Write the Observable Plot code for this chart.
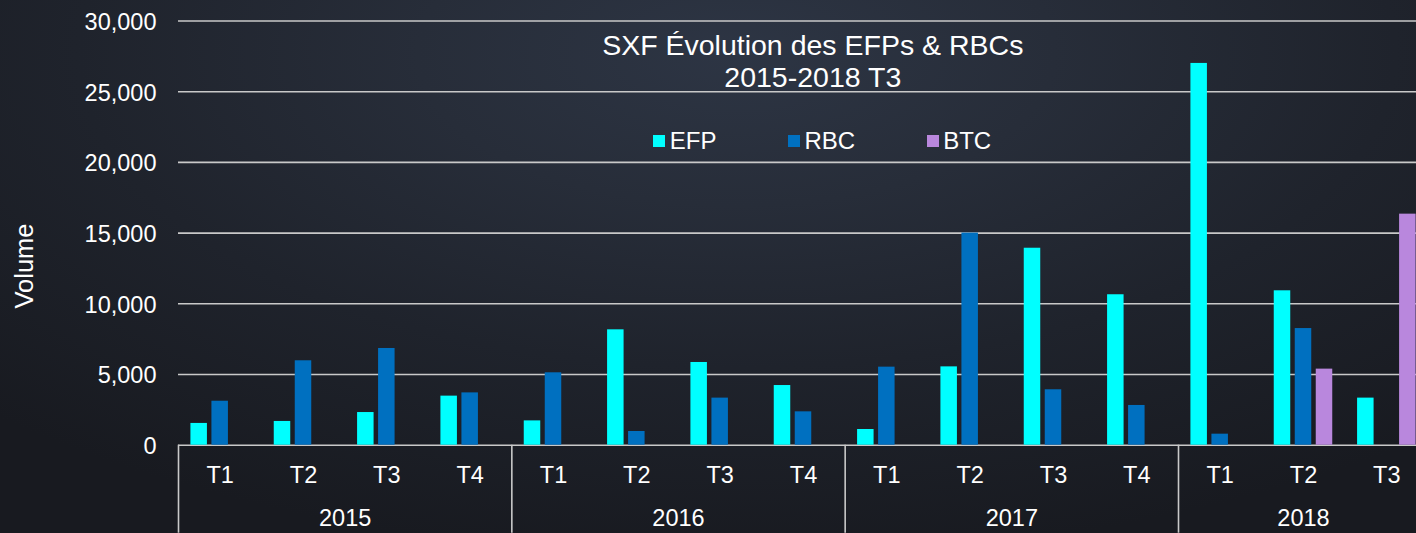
<!DOCTYPE html>
<html><head><meta charset="utf-8">
<script src="https://cdn.jsdelivr.net/npm/d3@7"></script>
<script src="https://cdn.jsdelivr.net/npm/@observablehq/plot@0.6"></script>
<style>
html,body{margin:0;padding:0;overflow:hidden;background:#1b1e25;}
#chart{position:relative;width:1416px;height:533px;overflow:hidden;
  background: radial-gradient(ellipse 75% 95% at 52% 10%, #2d3544 0%, #272d39 30%, #1f232c 62%, #181a20 100%);
  font-family:"Liberation Sans",Arial,sans-serif;color:#fff;}
#chart svg{position:absolute;left:0;top:0;max-width:none !important;width:1428px !important;height:533px !important;}
.title{position:absolute;left:0;width:1625.6px;top:29px;text-align:center;font-size:28.5px;line-height:32px;white-space:nowrap;}
.legend{position:absolute;left:653.3px;top:129px;display:flex;gap:71.5px;font-size:24px;line-height:24px;white-space:nowrap;}
.legend .sw{display:inline-block;width:12px;height:12.5px;vertical-align:1.6px;margin-right:4.5px;}
.ylabel{position:absolute;left:24.5px;top:265.8px;font-size:25.5px;line-height:25.5px;white-space:nowrap;transform:translate(-50%,-50%) rotate(-90deg);}
</style></head><body>
<div id="chart"></div>
<script>
// ---- data ----
const years = [2015, 2016, 2017, 2018];
const quartersPerYear = [4, 4, 4, 3];
const quarterLabels = ["T1", "T2", "T3", "T4"];
const seriesNames = ["EFP", "RBC", "BTC"];
const seriesColors = ["#00ffff", "#0070c0", "#b987dd"];
const efp = [1540, 1680, 2310, 3470, 1720, 8160, 5850, 4220, 1110, 5540, 13930, 10640, 27000, 10920, 3330];
const rbc = [3110, 5970, 6840, 3700, 5120, 970, 3330, 2360, 5520, 15000, 3920, 2810, 780, 8250, null];
const btc = [null, null, null, null, null, null, null, null, null, null, null, null, null, 5380, 16340];
const yTicks = [0, 5000, 10000, 15000, 20000, 25000, 30000];
const yDomain = [0, 30000];
const titleLines = ["SXF Évolution des EFPs & RBCs", "2015-2018 T3"];
const yLabel = "Volume";

// ---- layout constants (in category units) ----
const groupPad = 0.149, slotPitch = 0.252, barWidth = 0.198;
const gridColor = "#c9c9c9";

// ---- derived tables ----
const categories = [];
years.forEach((y, k) => {
  for (let q = 0; q < quartersPerYear[k]; q++) categories.push({year: y, quarter: quarterLabels[q], i: categories.length});
});
const yearRows = [];
{ let start = 0; years.forEach((y, k) => { yearRows.push({year: y, start, n: quartersPerYear[k]}); start += quartersPerYear[k]; }); }
const seriesValues = [efp, rbc, btc];
const barRows = [];
categories.forEach(c => seriesNames.forEach((s, si) => {
  const v = seriesValues[si][c.i];
  if (v != null) barRows.push({i: c.i, s: si, series: s, value: v});
}));

const chart = document.getElementById("chart");

const plot = Plot.plot({
  width: 1428, height: 533,
  marginLeft: 178, marginRight: 0, marginTop: 20.5, marginBottom: 88.3,
  style: {background: "transparent", color: "#fff", fontFamily: "Liberation Sans, Arial, sans-serif", fontSize: "23.5px", maxWidth: "none"},
  x: {type: "linear", domain: [0, categories.length]},
  y: {domain: yDomain},
  color: {domain: seriesNames, range: seriesColors},
  marks: [
    Plot.ruleY(yTicks, {stroke: gridColor, strokeWidth: 1.6}),
    Plot.rect(barRows, {
      x1: d => d.i + groupPad + d.s * slotPitch,
      x2: d => d.i + groupPad + d.s * slotPitch + barWidth,
      y1: d => 0, y2: "value", fill: "series"
    }),
    Plot.axisY({ticks: yTicks, tickSize: 0, tickPadding: 22, tickFormat: d3.format(","), fontSize: 23.5, fill: "#fff", dy: 1.3, label: null}),
    Plot.axisX({ticks: yearRows.map(d => d.start), tickSize: 88, tickFormat: () => "", stroke: gridColor, strokeWidth: 1.6, label: null}),
    Plot.text(categories, {x: d => d.i + 0.5, y: d => 0, text: "quarter", dy: 30, fontSize: 23.5, fill: "#fff"}),
    Plot.text(yearRows, {x: d => d.start + d.n / 2, y: d => 0, text: d => String(d.year), dy: 72.8, fontSize: 23.5, fill: "#fff"})
  ]
});
chart.appendChild(plot);

const ylab = document.createElement("div");
ylab.className = "ylabel";
ylab.textContent = yLabel;
chart.appendChild(ylab);

const title = document.createElement("div");
title.className = "title";
title.innerHTML = titleLines.map(t => `<div>${t}</div>`).join("");
chart.appendChild(title);

const legend = document.createElement("div");
legend.className = "legend";
seriesNames.forEach((s, k) => {
  const item = document.createElement("div");
  item.innerHTML = `<span class="sw" style="background:${seriesColors[k]}"></span>${s}`;
  legend.appendChild(item);
});
chart.appendChild(legend);
</script>
</body></html>
